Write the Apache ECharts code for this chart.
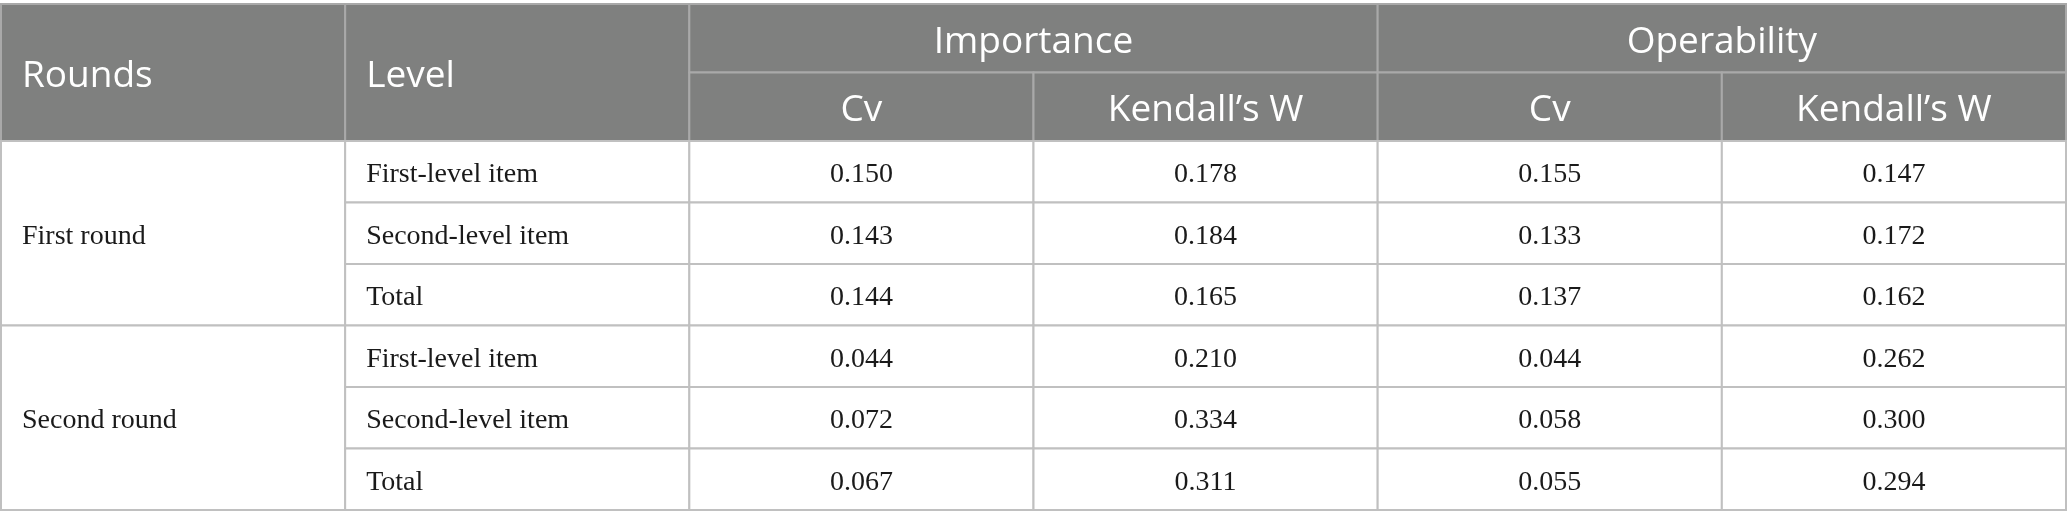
<!DOCTYPE html>
<html>
<head>
<meta charset="utf-8">
<script src="https://cdn.jsdelivr.net/npm/echarts@6/dist/echarts.min.js"></script>
<style>
  html, body { margin: 0; padding: 0; background: #fff; }
  #main { width: 2067px; height: 524px; }
</style>
</head>
<body>
<div id="main"></div>
<script>
// table content
var rounds = ['First round', 'Second round'];
var levels = ['First-level item', 'Second-level item', 'Total'];
var groups = ['Importance', 'Operability'];
var measures = ['Cv', 'Kendall\u2019s W'];
var headLeft = ['Rounds', 'Level'];

var importanceCv = [0.150, 0.143, 0.144, 0.044, 0.072, 0.067];
var importanceW  = [0.178, 0.184, 0.165, 0.210, 0.334, 0.311];
var operabilityCv = [0.155, 0.133, 0.137, 0.044, 0.058, 0.055];
var operabilityW  = [0.147, 0.172, 0.162, 0.262, 0.300, 0.294];

var HEAD_FONT = '37px "Open Sans", "Noto Sans", sans-serif';
var BODY_FONT = '28px "Liberation Serif", "DejaVu Serif", serif';

// header cells: [x0, x1, y0, y1], text, align
var headCells = [];
headCells.push({ box: [0, 1, 0, 2], text: headLeft[0], align: 'left' });
headCells.push({ box: [1, 2, 0, 2], text: headLeft[1], align: 'left' });
groups.forEach(function (g, i) {
  headCells.push({ box: [2 + i * 2, 4 + i * 2, 0, 1], text: g, align: 'center' });
  measures.forEach(function (m, j) {
    headCells.push({ box: [2 + i * 2 + j, 3 + i * 2 + j, 1, 2], text: m, align: 'center' });
  });
});

// body cells
var bodyCells = [];
var cols = [importanceCv, importanceW, operabilityCv, operabilityW];
rounds.forEach(function (r, i) {
  bodyCells.push({ box: [0, 1, i * 3, i * 3 + 3], text: r, align: 'left' });
  levels.forEach(function (l, j) {
    var row = i * 3 + j;
    bodyCells.push({ box: [1, 2, row, row + 1], text: l, align: 'left' });
    cols.forEach(function (c, k) {
      bodyCells.push({ box: [2 + k, 3 + k, row, row + 1], text: c[row].toFixed(3), align: 'center' });
    });
  });
});

function makeRender(cells, fill, stroke, color, font, dy) {
  return function (params, api) {
    var p0 = api.coord([api.value(0), api.value(2)]);
    var p1 = api.coord([api.value(1), api.value(3)]);
    var cell = cells[params.dataIndex];
    var left = cell.align === 'left';
    return {
      type: 'group',
      children: [{
        type: 'rect',
        shape: { x: p0[0], y: p0[1], width: p1[0] - p0[0], height: p1[1] - p0[1] },
        style: { fill: fill, stroke: stroke, lineWidth: 2 }
      }, {
        type: 'text',
        style: {
          text: cell.text,
          x: left ? p0[0] + 21 : (p0[0] + p1[0]) / 2,
          y: (p0[1] + p1[1]) / 2 + dy,
          align: left ? 'left' : 'center',
          verticalAlign: 'middle',
          font: font,
          fill: color
        }
      }]
    };
  };
}

var chart = echarts.init(document.getElementById('main'));
var option = {
  animation: false,
  backgroundColor: '#fff',
  grid: [
    { left: 1, right: 1, top: 4, height: 137 },
    { left: 1, right: 1, top: 141, height: 369 }
  ],
  xAxis: [
    { gridIndex: 0, type: 'value', min: 0, max: 6, show: false },
    { gridIndex: 1, type: 'value', min: 0, max: 6, show: false }
  ],
  yAxis: [
    { gridIndex: 0, type: 'value', min: 0, max: 2, inverse: true, show: false },
    { gridIndex: 1, type: 'value', min: 0, max: 6, inverse: true, show: false }
  ],
  series: [
    {
      type: 'custom',
      xAxisIndex: 0, yAxisIndex: 0,
      renderItem: makeRender(headCells, '#7f807f', '#a9a9a9', '#ffffff', HEAD_FONT, 4),
      data: headCells.map(function (c) { return c.box; })
    },
    {
      type: 'custom',
      xAxisIndex: 1, yAxisIndex: 1,
      renderItem: makeRender(bodyCells, '#ffffff', '#c0c0c0', '#1a1a1a', BODY_FONT, 3),
      data: bodyCells.map(function (c) { return c.box; })
    }
  ]
};
chart.setOption(option);
</script>
</body>
</html>
